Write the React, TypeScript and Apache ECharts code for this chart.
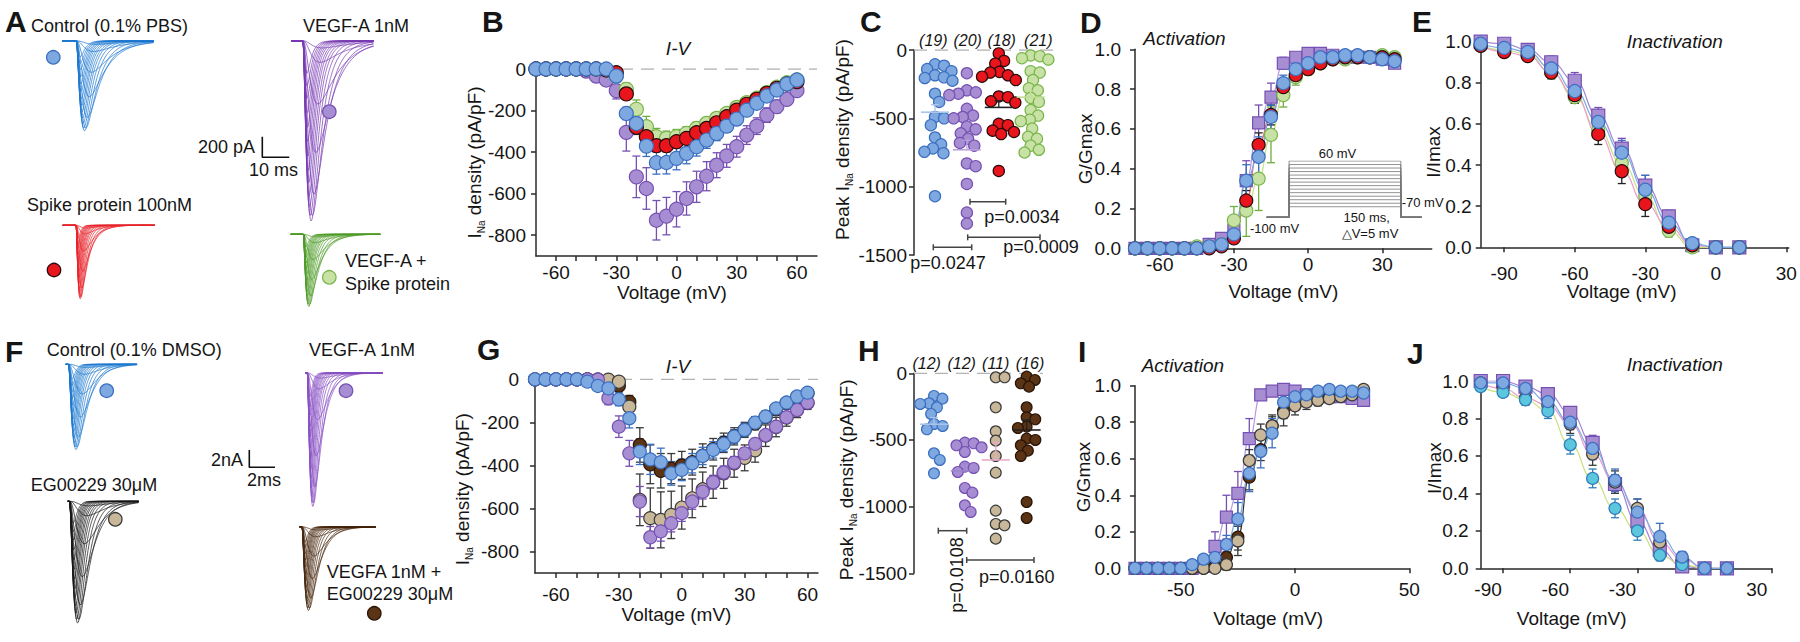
import React, { useEffect, useRef } from 'react';
import * as echarts from 'echarts';

const FONT = '"Liberation Sans", Arial, Helvetica, sans-serif';
const INK = '#151515';
const AXC = '#2a2a2a';

// ---------------- A / F : current-trace families ----------------
const traceStepVolts = [-40, -35, -30, -25, -20, -15, -10, -5, 0, 5, 10, 15, 20, 25, 30, 35, 40, 45, 50];
const traceRelAmp = [0.04, 0.12, 0.35, 0.62, 0.85, 0.97, 1.0, 0.97, 0.92, 0.86, 0.79, 0.72, 0.64, 0.56, 0.48, 0.4, 0.32, 0.25, 0.18];
const traceTauAct = [1.1, 1.0, 0.9, 0.8, 0.7, 0.62, 0.55, 0.5, 0.46, 0.43, 0.4, 0.38, 0.36, 0.34, 0.33, 0.32, 0.31, 0.3, 0.29];
const traceTauInact = [5.0, 4.2, 3.5, 2.9, 2.4, 2.0, 1.7, 1.5, 1.35, 1.25, 1.15, 1.08, 1.0, 0.95, 0.9, 0.86, 0.82, 0.79, 0.76];
// groups A: Control (PBS), VEGF-A, Spike, VEGF-A + Spike  (pA, ms)
const tracePeaksA = [875, 1750, 720, 705];
const traceUnitA = [2.7, 2.7, 1.35, 1.8];
const traceInactA = [0.8, 0.8, 0.85, 0.8];
const traceOnsetA = [5.2, 4.3, 4.9, 4.6];
const traceSweepA = [34, 30.7, 34.2, 33.3];
// groups F: Control (DMSO), VEGF-A, EG00229, VEGFA + EG00229 (nA, ms)
const tracePeaksF = [9.9, 15.5, 14.1, 9.7];
const traceUnitF = [0.66, 0.5, 0.72, 0.58];
const traceInactF = [0.45, 0.45, 0.45, 0.45];
const traceOnsetF = [0.2, 0.16, 0.12, 0.19];
const traceSweepF = [5.57, 6.07, 5.55, 5.97];
const scaleBarA = [10, 200]; // ms, pA
const scaleBarF = [2, 2]; // ms, nA

// ---------------- B / G : I-V ----------------
const ivVolts = [-70, -65, -60, -55, -50, -45, -40, -35, -30, -25, -20, -15, -10, -5, 0, 5, 10, 15, 20, 25, 30, 35, 40, 45, 50, 55, 60];
const ivCtrlB = [0, 0, 0, 0, 0, 0, 0, 0, -34, -214, -262, -371, -451, -450, -430, -406, -374, -342, -310, -275, -241, -198, -165, -130, -101, -72, -53];
const ivVegfB = [0, 0, 0, 0, 0, -10, -34, -53, -104, -305, -519, -575, -728, -708, -675, -623, -567, -516, -463, -418, -374, -318, -275, -222, -181, -146, -104];
const ivSpikeB = [0, 0, 0, 0, 0, 0, 0, -5, -18, -120, -280, -326, -369, -369, -350, -334, -307, -286, -259, -230, -198, -170, -146, -117, -93, -72, -61];
const ivComboB = [0, 0, 0, 0, 0, 0, 0, -5, -34, -98, -194, -278, -326, -334, -326, -310, -286, -262, -238, -214, -185, -162, -141, -114, -88, -66, -53];
const errCtrlB = [0, 0, 0, 0, 0, 0, 0, 0, 10, 30, 45, 50, 55, 55, 55, 50, 45, 40, 35, 30, 28, 25, 22, 20, 18, 15, 12];
const errVegfB = [0, 0, 0, 0, 0, 5, 10, 15, 40, 90, 100, 100, 95, 90, 85, 80, 75, 70, 60, 55, 50, 45, 40, 35, 30, 25, 20];
const errSpikeB = [0, 0, 0, 0, 0, 0, 0, 5, 10, 25, 35, 35, 30, 30, 30, 28, 26, 24, 22, 20, 18, 16, 14, 12, 10, 8, 6];
const errComboB = [0, 0, 0, 0, 0, 0, 0, 5, 15, 30, 45, 50, 40, 35, 35, 32, 30, 28, 26, 24, 22, 20, 18, 16, 14, 12, 10];

const ivCtrlG = [0, 0, 0, 0, 0, -11, -31, -42, -93, -181, -336, -372, -385, -437, -421, -390, -356, -328, -300, -266, -235, -201, -173, -135, -108, -80, -62];
const ivVegfG = [0, 0, 0, 0, 0, 0, -2, -88, -220, -344, -568, -734, -707, -669, -622, -568, -522, -478, -433, -387, -344, -300, -259, -220, -176, -142, -108];
const ivEgG = [0, 0, 0, 0, 0, 0, 0, -2, -11, -127, -560, -645, -653, -630, -596, -553, -511, -478, -437, -390, -365, -330, -262, -222, -178, -143, -110];
const ivComboG = [0, 0, 0, 0, 0, 0, -5, -15, -30, -105, -305, -395, -425, -415, -400, -385, -355, -325, -295, -265, -235, -205, -175, -140, -110, -85, -65];
const errCtrlG = [0, 0, 0, 0, 0, 5, 10, 15, 30, 45, 60, 70, 65, 55, 50, 45, 40, 38, 35, 32, 30, 28, 25, 22, 20, 18, 15];
const errVegfG = [0, 0, 0, 0, 0, 0, 5, 30, 50, 60, 70, 50, 45, 40, 38, 36, 34, 32, 30, 28, 26, 24, 22, 20, 18, 16, 14];
const errEgG = [0, 0, 0, 0, 0, 0, 0, 5, 10, 30, 120, 140, 130, 110, 100, 90, 80, 75, 70, 65, 60, 55, 50, 45, 40, 35, 30];
const errComboG = [0, 0, 0, 0, 0, 0, 5, 10, 15, 30, 80, 90, 80, 70, 65, 60, 55, 50, 45, 40, 35, 30, 28, 25, 22, 20, 18];

// ---------------- C / H : peak density per cell ----------------
const cCtrl = [-105, -115, -140, -155, -185, -200, -205, -225, -320, -380, -490, -500, -550, -640, -690, -720, -745, -755, -1070];
const cVegf = [-170, -295, -310, -320, -330, -430, -480, -490, -500, -560, -580, -610, -650, -680, -700, -830, -850, -980, -1190, -1270];
const cSpike = [-25, -80, -100, -160, -165, -185, -195, -220, -340, -345, -375, -385, -540, -550, -590, -600, -615, -885];
const cCombo = [-40, -45, -60, -70, -155, -165, -220, -280, -295, -350, -380, -440, -480, -510, -520, -575, -635, -650, -700, -730, -750];
const cMeans = [-455, -730, -420, -345];
const cSem = [55, 70, 50, 45];
const cCounts = ['(19)', '(20)', '(18)', '(21)'];

const hCtrl = [-170, -190, -225, -230, -255, -305, -380, -395, -420, -600, -650, -750];
const hVegf = [-520, -525, -540, -555, -590, -700, -710, -740, -860, -895, -990, -1040];
const hEg = [-30, -30, -255, -435, -505, -620, -745, -1030, -1130, -1140, -1240];
const hCombo = [-25, -50, -75, -100, -255, -330, -345, -400, -410, -490, -500, -540, -580, -620, -965, -1085];
const hMeans = [-382, -732, -650, -425];
const hSem = [50, 55, 130, 75];
const hCounts = ['(12)', '(12)', '(11)', '(16)'];

// ---------------- D / I : activation ----------------
const actVoltsD = [-70, -65, -60, -55, -50, -45, -40, -35, -30, -25, -20, -15, -10, -5, 0, 5, 10, 15, 20, 25, 30, 35];
const actCtrlD = [0, 0, 0, 0, 0, 0, 0.01, 0.02, 0.07, 0.34, 0.46, 0.66, 0.83, 0.9, 0.93, 0.96, 0.96, 0.97, 0.97, 0.96, 0.95, 0.94];
const actVegfD = [0, 0, 0, 0, 0, 0, 0.02, 0.05, 0.09, 0.34, 0.63, 0.76, 0.93, 0.96, 0.98, 0.98, 0.97, 0.96, 0.96, 0.96, 0.95, 0.93];
const actSpikeD = [0, 0, 0, 0, 0, 0, 0, 0.01, 0.05, 0.24, 0.52, 0.67, 0.81, 0.87, 0.9, 0.93, 0.95, 0.96, 0.96, 0.96, 0.96, 0.95];
const actComboD = [0, 0, 0, 0, 0, 0.01, 0.01, 0.02, 0.14, 0.19, 0.35, 0.57, 0.77, 0.86, 0.9, 0.93, 0.95, 0.95, 0.96, 0.96, 0.97, 0.96];
const errCtrlD = [0, 0, 0, 0, 0, 0, 0, 0, 0.02, 0.08, 0.1, 0.06, 0.04, 0.03, 0.02, 0.01, 0.01, 0.01, 0.01, 0.01, 0.01, 0.01];
const errVegfD = [0, 0, 0, 0, 0, 0, 0, 0.01, 0.03, 0.1, 0.09, 0.07, 0.03, 0.02, 0.01, 0.01, 0.01, 0.01, 0.01, 0.01, 0.01, 0.01];
const errSpikeD = [0, 0, 0, 0, 0, 0, 0, 0, 0.02, 0.05, 0.06, 0.05, 0.04, 0.03, 0.02, 0.01, 0.01, 0.01, 0.01, 0.01, 0.01, 0.01];
const errComboD = [0, 0, 0, 0, 0, 0, 0, 0.01, 0.07, 0.13, 0.16, 0.14, 0.06, 0.04, 0.03, 0.02, 0.01, 0.01, 0.01, 0.01, 0.01, 0.01];

const actVoltsI = [-70, -65, -60, -55, -50, -45, -40, -35, -30, -25, -20, -15, -10, -5, 0, 5, 10, 15, 20, 25, 30];
const actCtrlI = [0, 0, 0, 0, 0, 0.02, 0.05, 0.06, 0.13, 0.27, 0.52, 0.64, 0.74, 0.91, 0.94, 0.95, 0.97, 0.98, 0.97, 0.97, 0.96];
const actVegfI = [0, 0, 0, 0, 0, 0, 0.01, 0.12, 0.28, 0.41, 0.71, 0.95, 0.97, 0.98, 0.97, 0.95, 0.95, 0.94, 0.94, 0.93, 0.92];
const actEgI = [0, 0, 0, 0, 0, 0, 0, 0, 0.02, 0.15, 0.59, 0.73, 0.78, 0.85, 0.89, 0.91, 0.92, 0.93, 0.94, 0.95, 0.98];
const actComboI = [0, 0, 0, 0, 0, 0, 0, 0.01, 0.06, 0.17, 0.5, 0.65, 0.78, 0.86, 0.9, 0.92, 0.93, 0.94, 0.95, 0.96, 0.97];
const errCtrlI = [0, 0, 0, 0, 0, 0.01, 0.01, 0.02, 0.05, 0.09, 0.1, 0.09, 0.08, 0.05, 0.03, 0.02, 0.01, 0.01, 0.01, 0.01, 0.01];
const errVegfI = [0, 0, 0, 0, 0, 0, 0.01, 0.08, 0.12, 0.12, 0.11, 0.02, 0.02, 0.01, 0.01, 0.01, 0.01, 0.01, 0.01, 0.01, 0.01];
const errEgI = [0, 0, 0, 0, 0, 0, 0, 0.01, 0.03, 0.08, 0.06, 0.06, 0.06, 0.07, 0.05, 0.04, 0.03, 0.02, 0.02, 0.02, 0.02];
const errComboI = [0, 0, 0, 0, 0, 0, 0, 0.01, 0.03, 0.07, 0.07, 0.06, 0.05, 0.04, 0.03, 0.02, 0.02, 0.02, 0.02, 0.02, 0.02];

// ---------------- E / J : steady-state inactivation ----------------
const inaVolts = [-100, -90, -80, -70, -60, -50, -40, -30, -20, -10, 0, 10];
const inaCtrlE = [0.99, 0.97, 0.95, 0.87, 0.76, 0.61, 0.46, 0.28, 0.12, 0.02, 0, 0];
const inaVegfE = [1.0, 0.99, 0.96, 0.9, 0.81, 0.64, 0.48, 0.3, 0.15, 0.01, 0, 0];
const inaSpikeE = [0.98, 0.95, 0.93, 0.85, 0.74, 0.55, 0.37, 0.21, 0.1, 0.01, 0, 0];
const inaComboE = [0.98, 0.96, 0.94, 0.85, 0.73, 0.57, 0.41, 0.25, 0.08, 0, 0, 0];
const errCtrlE = [0.01, 0.01, 0.02, 0.03, 0.04, 0.05, 0.06, 0.07, 0.04, 0.01, 0, 0];
const errVegfE = [0.01, 0.01, 0.02, 0.03, 0.04, 0.04, 0.05, 0.05, 0.03, 0.01, 0, 0];
const errSpikeE = [0.01, 0.01, 0.02, 0.03, 0.04, 0.05, 0.06, 0.06, 0.04, 0.01, 0, 0];
const errComboE = [0.01, 0.01, 0.02, 0.03, 0.03, 0.04, 0.05, 0.05, 0.03, 0.01, 0, 0];

const inaCtrlJ = [0.99, 0.99, 0.96, 0.89, 0.78, 0.64, 0.47, 0.3, 0.17, 0.06, 0, 0];
const inaVegfJ = [1.0, 1.0, 0.97, 0.93, 0.83, 0.67, 0.45, 0.25, 0.1, 0.01, 0, 0];
const inaEgJ = [0.99, 0.96, 0.91, 0.87, 0.77, 0.61, 0.46, 0.32, 0.14, 0.05, 0, 0];
const inaComboJ = [0.97, 0.94, 0.9, 0.84, 0.66, 0.48, 0.32, 0.2, 0.07, 0.02, 0, 0];
const errCtrlJ = [0.02, 0.02, 0.02, 0.03, 0.04, 0.06, 0.06, 0.07, 0.07, 0.03, 0, 0];
const errVegfJ = [0.01, 0.01, 0.02, 0.02, 0.03, 0.04, 0.05, 0.06, 0.05, 0.02, 0, 0];
const errEgJ = [0.02, 0.02, 0.03, 0.04, 0.05, 0.06, 0.06, 0.05, 0.04, 0.02, 0, 0];
const errComboJ = [0.02, 0.02, 0.03, 0.04, 0.05, 0.05, 0.05, 0.05, 0.03, 0.01, 0, 0];

// ---------------- activation protocol inset ----------------
const protocolLevels = [-70, -60, -50, -40, -30, -20, -10, 0, 10, 20, 30, 40, 50, 60];
const protocolHold = -100;
const protocolTimes = [-30, 0, 150, 178];

// ---------------- colours ----------------
const COL = {
  blue: { fill: '#7ea8e0', stroke: '#3b6fc0', err: '#3b6fc0', fit: '#7aaae6' },
  purple: { fill: '#a78ed3', stroke: '#7650b2', err: '#7650b2', fit: '#b79be0' },
  red: { fill: '#e8151c', stroke: '#2a0a0a', err: '#222222', fit: '#ec9cc8' },
  green: { fill: '#c7e2a4', stroke: '#7bb64d', err: '#6fae3e', fit: '#c9e08a' },
  tan: { fill: '#c8b899', stroke: '#3a3a3a', err: '#3a3a3a', fit: '#ec9cc8' },
  brown: { fill: '#5a3414', stroke: '#2a1406', err: '#3a3a3a', fit: '#333333' },
  cyan: { fill: '#5cc6df', stroke: '#2f7fb8', err: '#2f7fb8', fit: '#c9e07a' },
};

function beeswarm(ys: number[], d: number): number[] {
  const order = ys.map((_, i) => i).sort((a, b) => ys[a] - ys[b]);
  const xs = new Array(ys.length).fill(0);
  const placed: number[] = [];
  for (const i of order) {
    const cand = [0];
    const ints: number[][] = [];
    for (const j of placed) {
      const dy = Math.abs(ys[i] - ys[j]);
      if (dy < d) {
        const w = Math.sqrt(d * d - dy * dy);
        ints.push([xs[j] - w, xs[j] + w]);
        cand.push(xs[j] + w, xs[j] - w);
      }
    }
    cand.sort((a, b) => Math.abs(a) - Math.abs(b));
    let best = 0;
    for (const c of cand) {
      if (ints.every(([a, b]) => c <= a + 1e-6 || c >= b - 1e-6)) { best = c; break; }
    }
    xs[i] = best;
    placed.push(i);
  }
  return xs;
}

function buildOption() {
  const grid: any[] = [];
  const xAxis: any[] = [];
  const yAxis: any[] = [];
  const series: any[] = [];
  const graphic: any[] = [];

  const addGrid = (g: any, xa: any, ya: any) => {
    const idx = grid.length;
    grid.push({ ...g, containLabel: false, outerBoundsMode: 'none' });
    xAxis.push({ gridIndex: idx, ...xa });
    yAxis.push({ gridIndex: idx, ...ya });
    return idx;
  };
  const hidden = (min: number, max: number) => ({ type: 'value', min, max, show: false, splitLine: { show: false } });
  const valAxis = (o: any) => ({
    type: 'value', min: o.min, max: o.max, splitLine: { show: false },
    axisLine: { show: true, onZero: false, lineStyle: { color: AXC, width: 1.5 } },
    axisTick: { show: true, length: 5, inside: false, customValues: o.ticks, lineStyle: { color: AXC, width: 1.5 } },
    axisLabel: {
      customValues: o.labels, fontSize: 19, fontFamily: FONT, color: INK, margin: o.margin ?? 8,
      formatter: o.fmt ?? ((v: number) => String(Math.round(v))), padding: o.lpad ?? 0,
    },
    name: o.name, nameLocation: 'middle', nameGap: o.nameGap, nameRotate: o.nameRotate ?? 0,
    nameMoveOverlap: false,
    nameTextStyle: { fontSize: 19, fontFamily: FONT, color: INK, padding: o.npad ?? 0, rich: o.rich },
  });
  const fmt1 = (v: number) => v.toFixed(1);
  const subRich = {
    t: { fontSize: 19, fontFamily: FONT, color: INK, lineHeight: 24, verticalAlign: 'middle' },
    s: { fontSize: 10, fontFamily: FONT, color: INK, lineHeight: 24, verticalAlign: 'bottom' },
  };

  // ----- trace panels -----
  const traceGroup = (gi: number, peak: number, unit: number, inact: number, onset: number, sweep: number, color: string) => {
    const N = 320;
    traceStepVolts.forEach((_, k) => {
      const tm = traceTauAct[k] * unit;
      const th = traceTauInact[k] * unit * inact;
      const raw: number[][] = [];
      let fmax = 0;
      for (let j = 0; j <= N; j++) {
        const t = (j * sweep) / N;
        const tt = t - onset;
        const f = tt > 0 ? Math.pow(1 - Math.exp(-tt / tm), 3) * Math.exp(-tt / th) : 0;
        raw.push([t, f]);
        if (f > fmax) fmax = f;
      }
      const a = peak * traceRelAmp[k];
      series.push({
        type: 'line', xAxisIndex: gi, yAxisIndex: gi, showSymbol: false, symbol: 'none', silent: true,
        data: raw.map(([t, f]) => [t, (-a * f) / fmax]),
        lineStyle: { color, width: 0.75, opacity: 1 }, z: 2,
      });
    });
  };
  const A_PX_MS = 2.7, A_PX_PA = 0.103, A_YMAX = 2000;
  const F_PX_MS = 12.85, F_PX_NA = 8.65, F_YMAX = 16;
  const posA = [[62, 40.7], [291, 40.7], [62.7, 225], [290.7, 234]];
  const posF = [[65.7, 364], [305, 372.7], [67.7, 501], [299.3, 526.7]];
  const colA = ['#2079d2', '#7a3cb4', '#e8262c', '#4f9c28'];
  const colF = ['#1f7bd0', '#8a52c4', '#1a1a1a', '#4a2a10'];
  for (let g = 0; g < 4; g++) {
    const gi = addGrid(
      { left: posA[g][0], top: posA[g][1], width: traceSweepA[g] * A_PX_MS, height: A_YMAX * A_PX_PA },
      hidden(0, traceSweepA[g]), hidden(-A_YMAX, 0));
    traceGroup(gi, tracePeaksA[g], traceUnitA[g], traceInactA[g], traceOnsetA[g], traceSweepA[g], colA[g]);
    const gf = addGrid(
      { left: posF[g][0], top: posF[g][1], width: traceSweepF[g] * F_PX_MS, height: F_YMAX * F_PX_NA },
      hidden(0, traceSweepF[g]), hidden(-F_YMAX, 0));
    traceGroup(gf, tracePeaksF[g], traceUnitF[g], traceInactF[g], traceOnsetF[g], traceSweepF[g], colF[g]);
  }
  // scale bars
  const sbA = addGrid({ left: 262.3, top: 136.7, width: scaleBarA[0] * A_PX_MS, height: scaleBarA[1] * A_PX_PA },
    hidden(0, scaleBarA[0]), hidden(0, scaleBarA[1]));
  series.push({ type: 'line', xAxisIndex: sbA, yAxisIndex: sbA, symbol: 'none', silent: true,
    data: [[0, scaleBarA[1]], [0, 0], [scaleBarA[0], 0]], lineStyle: { color: '#111', width: 1.6 } });
  const sbF = addGrid({ left: 249.3, top: 450, width: scaleBarF[0] * F_PX_MS, height: scaleBarF[1] * F_PX_NA },
    hidden(0, scaleBarF[0]), hidden(0, scaleBarF[1]));
  series.push({ type: 'line', xAxisIndex: sbF, yAxisIndex: sbF, symbol: 'none', silent: true,
    data: [[0, scaleBarF[1]], [0, 0], [scaleBarF[0], 0]], lineStyle: { color: '#111', width: 1.6 } });

  // ----- helpers for data panels -----
  const scatter = (gi: number, xs: number[], ys: number[], c: any, size: number, symbol = 'circle', z = 4) => ({
    type: 'scatter', xAxisIndex: gi, yAxisIndex: gi, silent: true, symbol, symbolSize: size, z,
    data: xs.map((x, i) => [x, ys[i]]),
    itemStyle: { color: c.fill, borderColor: c.stroke, borderWidth: 1.2, opacity: 1 },
  });
  const errBars = (gi: number, xs: number[], ys: number[], es: number[], color: string, cap = 4) => ({
    type: 'custom', xAxisIndex: gi, yAxisIndex: gi, silent: true, z: 3,
    data: xs.map((x, i) => [x, ys[i], es[i]]),
    encode: { x: 0, y: 1 },
    renderItem: (_p: any, api: any) => {
      const x = api.value(0), y = api.value(1), e = api.value(2);
      if (!e) return { type: 'group', children: [] };
      const a = api.coord([x, y + e]);
      const b = api.coord([x, y - e]);
      const st = { stroke: color, lineWidth: 1.3 };
      return {
        type: 'group', children: [
          { type: 'line', shape: { x1: a[0], y1: a[1], x2: b[0], y2: b[1] }, style: st },
          { type: 'line', shape: { x1: a[0] - cap, y1: a[1], x2: a[0] + cap, y2: a[1] }, style: st },
          { type: 'line', shape: { x1: b[0] - cap, y1: b[1], x2: b[0] + cap, y2: b[1] }, style: st },
        ],
      };
    },
  });
  const fitLine = (gi: number, xs: number[], ys: number[], color: string) => ({
    type: 'line', xAxisIndex: gi, yAxisIndex: gi, silent: true, symbol: 'none', showSymbol: false,
    smooth: 0.5, smoothMonotone: 'x', z: 2,
    data: xs.map((x, i) => [x, ys[i]]), lineStyle: { color, width: 1.2 },
  });
  const zeroLine = (gi: number, x0: number, x1: number) => ({
    type: 'line', xAxisIndex: gi, yAxisIndex: gi, silent: true, symbol: 'none', z: 1,
    data: [[x0, 0], [x1, 0]], lineStyle: { color: '#b3b3b3', width: 1.5, type: [13, 8] },
  });
  const swarm = (gi: number, cat: number, values: number[], c: any, r: number) => ({
    type: 'custom', xAxisIndex: gi, yAxisIndex: gi, silent: true, z: 4,
    data: values.map((v) => [cat, v]), encode: { x: 0, y: 1 },
    renderItem: (params: any, api: any) => {
      const pts = values.map((v) => api.coord([cat, v]));
      const offs = beeswarm(pts.map((p: number[]) => p[1]), 2 * r * 0.82);
      const i = params.dataIndex;
      return { type: 'circle', shape: { cx: pts[i][0] + offs[i], cy: pts[i][1], r }, style: { fill: c.fill, stroke: c.stroke, lineWidth: 1.2 } };
    },
  });
  const meanBars = (gi: number, means: number[], sems: number[], colors: string[]) => ({
    type: 'custom', xAxisIndex: gi, yAxisIndex: gi, silent: true, z: 5,
    data: means.map((m, i) => [i + 1, m, sems[i]]), encode: { x: 0, y: 1 },
    renderItem: (params: any, api: any) => {
      const x = api.value(0), m = api.value(1), s = api.value(2);
      const p = api.coord([x, m]);
      const q = api.coord([x, m + s]);
      const col = colors[params.dataIndex];
      return {
        type: 'group', children: [
          { type: 'line', shape: { x1: p[0] - 14, y1: p[1], x2: p[0] + 14, y2: p[1] }, style: { stroke: col, lineWidth: 1.6 } },
          { type: 'line', shape: { x1: p[0], y1: p[1], x2: q[0], y2: q[1] }, style: { stroke: col, lineWidth: 1.3 } },
          { type: 'line', shape: { x1: q[0] - 4, y1: q[1], x2: q[0] + 4, y2: q[1] }, style: { stroke: col, lineWidth: 1.3 } },
        ],
      };
    },
  });

  // ----- B -----
  const ivTicks = [-60, -50, -40, -30, -20, -10, 0, 10, 20, 30, 40, 50, 60];
  const ivLabels = [-60, -30, 0, 30, 60];
  const ivY = [-800, -600, -400, -200, 0];
  const gB = addGrid({ left: 536, top: 69, width: 281, height: 187 },
    valAxis({ min: -70, max: 70, ticks: ivTicks, labels: ivLabels, margin: 7, name: 'Voltage (mV)', nameGap: 27, npad: [0, 9, 0, 0] }),
    valAxis({ min: -900, max: 0, ticks: ivY, labels: ivY, margin: 10, name: '{t|I}{s|Na}{t| density (pA/pF)}', nameGap: 50, nameRotate: 90, rich: subRich }));
  series.push(zeroLine(gB, -70, 70));
  series.push(errBars(gB, ivVolts, ivVegfB, errVegfB, COL.purple.err));
  series.push(errBars(gB, ivVolts, ivComboB, errComboB, COL.green.err));
  series.push(errBars(gB, ivVolts, ivSpikeB, errSpikeB, COL.red.err));
  series.push(errBars(gB, ivVolts, ivCtrlB, errCtrlB, COL.blue.err));
  series.push(scatter(gB, ivVolts, ivVegfB, COL.purple, 14));
  series.push(scatter(gB, ivVolts, ivComboB, COL.green, 14));
  series.push(scatter(gB, ivVolts, ivSpikeB, COL.red, 14));
  series.push(scatter(gB, ivVolts, ivCtrlB, COL.blue, 14));

  // ----- G -----
  const gG = addGrid({ left: 535, top: 379.3, width: 283, height: 193.7 },
    valAxis({ min: -70, max: 65, ticks: ivTicks, labels: ivLabels, margin: 12, name: 'Voltage (mV)', nameGap: 32 }),
    valAxis({ min: -900, max: 0, ticks: ivY, labels: ivY, margin: 16, name: '{t|I}{s|Na}{t| density (pA/pF)}', nameGap: 61, nameRotate: 90, rich: subRich, npad: [0, 26, 0, 0] }));
  series.push(zeroLine(gG, -70, 65));
  series.push(errBars(gG, ivVolts, ivComboG, errComboG, COL.brown.err));
  series.push(errBars(gG, ivVolts, ivEgG, errEgG, COL.tan.err));
  series.push(errBars(gG, ivVolts, ivVegfG, errVegfG, COL.purple.err));
  series.push(errBars(gG, ivVolts, ivCtrlG, errCtrlG, COL.blue.err));
  series.push(scatter(gG, ivVolts, ivComboG, COL.brown, 13));
  series.push(scatter(gG, ivVolts, ivEgG, COL.tan, 13));
  series.push(scatter(gG, ivVolts, ivVegfG, COL.purple, 13));
  series.push(scatter(gG, ivVolts, ivCtrlG, COL.blue, 13));

  // ----- C -----
  const pkY = [-1500, -1000, -500, 0];
  const gC = addGrid({ left: 914, top: 50, width: 139, height: 205 },
    hidden(0.342, 4.7),
    valAxis({ min: -1500, max: 0, ticks: pkY, labels: pkY, margin: 7, name: '{t|Peak I}{s|Na}{t| density (pA/pF)}', nameGap: 60, nameRotate: 90, rich: subRich, npad: [0, 0, 0, 26] }));
  series.push(zeroLine(gC, 0.342, 4.7));
  series.push(swarm(gC, 1, cCtrl, COL.blue, 5.6));
  series.push(swarm(gC, 2, cVegf, COL.purple, 5.6));
  series.push(swarm(gC, 3, cSpike, COL.red, 5.6));
  series.push(swarm(gC, 4, cCombo, COL.green, 5.6));
  series.push(meanBars(gC, cMeans, cSem, ['#a9c4ea', '#b9a3dd', '#222222', '#c2dd98']));

  // ----- H -----
  const gH = addGrid({ left: 914, top: 373.3, width: 129, height: 200 },
    hidden(0.353, 4.53),
    valAxis({ min: -1500, max: 0, ticks: pkY, labels: pkY, margin: 7, name: '{t|Peak I}{s|Na}{t| density (pA/pF)}', nameGap: 56, nameRotate: 90, rich: subRich, npad: [0, 13, 0, 0] }));
  series.push(zeroLine(gH, 0.353, 4.53));
  series.push(swarm(gH, 1, hCtrl, COL.blue, 5.4));
  series.push(swarm(gH, 2, hVegf, COL.purple, 5.4));
  series.push(swarm(gH, 3, hEg, COL.tan, 5.4));
  series.push(swarm(gH, 4, hCombo, COL.brown, 5.4));
  series.push(meanBars(gH, hMeans, hSem, ['#a9c4ea', '#9d85cc', '#eaa9c9', '#222222']));

  // ----- D -----
  const unitY = [0, 0.2, 0.4, 0.6, 0.8, 1.0];
  const gD = addGrid({ left: 1135, top: 49.3, width: 296.7, height: 199 },
    valAxis({ min: -70, max: 50, ticks: [-60, -30, 0, 30], labels: [-60, -30, 0, 30], margin: 7, name: 'Voltage (mV)', nameGap: 34 }),
    valAxis({ min: 0, max: 1, ticks: unitY, labels: unitY, fmt: fmt1, margin: 14, name: 'G/Gmax', nameGap: 40, nameRotate: 90 }));
  series.push(fitLine(gD, actVoltsD, actVegfD, COL.purple.fit));
  series.push(fitLine(gD, actVoltsD, actComboD, COL.green.fit));
  series.push(fitLine(gD, actVoltsD, actSpikeD, '#e07070'));
  series.push(fitLine(gD, actVoltsD, actCtrlD, COL.blue.fit));
  series.push(errBars(gD, actVoltsD, actVegfD, errVegfD, COL.purple.err));
  series.push(errBars(gD, actVoltsD, actComboD, errComboD, COL.green.err));
  series.push(errBars(gD, actVoltsD, actSpikeD, errSpikeD, COL.red.err));
  series.push(errBars(gD, actVoltsD, actCtrlD, errCtrlD, COL.blue.err));
  series.push(scatter(gD, actVoltsD, actVegfD, COL.purple, 12, 'rect'));
  series.push(scatter(gD, actVoltsD, actComboD, COL.green, 13));
  series.push(scatter(gD, actVoltsD, actSpikeD, COL.red, 13));
  series.push(scatter(gD, actVoltsD, actCtrlD, COL.blue, 13));

  // protocol inset
  const gP = addGrid({ left: 1266.7, top: 161, width: 155, height: 56.3 },
    hidden(protocolTimes[0], protocolTimes[3]), hidden(protocolHold, 60));
  protocolLevels.forEach((L) => {
    series.push({
      type: 'line', xAxisIndex: gP, yAxisIndex: gP, symbol: 'none', silent: true, z: 1,
      data: [[protocolTimes[0], protocolHold], [protocolTimes[1], protocolHold], [protocolTimes[1], L], [protocolTimes[2], L], [protocolTimes[2], protocolHold], [protocolTimes[3], protocolHold]],
      lineStyle: { color: '#777', width: 0.8 },
    });
  });

  // ----- E -----
  const inaX = [-90, -60, -30, 0, 30];
  const gE = addGrid({ left: 1480.7, top: 41.7, width: 308, height: 205.6 },
    valAxis({ min: -100, max: 31, ticks: inaX, labels: inaX, margin: 17, name: 'Voltage (mV)', nameGap: 35, npad: [0, 26, 0, 0] }),
    valAxis({ min: 0, max: 1, ticks: unitY, labels: unitY, fmt: fmt1, margin: 9, name: 'I/Imax', nameGap: 38, nameRotate: 90, npad: [0, 15, 0, 0] }));
  series.push(fitLine(gE, inaVolts, inaVegfE, '#a385d3'));
  series.push(fitLine(gE, inaVolts, inaComboE, COL.green.fit));
  series.push(fitLine(gE, inaVolts, inaSpikeE, COL.red.fit));
  series.push(fitLine(gE, inaVolts, inaCtrlE, COL.blue.fit));
  series.push(errBars(gE, inaVolts, inaVegfE, errVegfE, COL.purple.err));
  series.push(errBars(gE, inaVolts, inaComboE, errComboE, COL.green.err));
  series.push(errBars(gE, inaVolts, inaSpikeE, errSpikeE, COL.red.err));
  series.push(errBars(gE, inaVolts, inaCtrlE, errCtrlE, COL.blue.err));
  series.push(scatter(gE, inaVolts, inaVegfE, COL.purple, 13, 'rect'));
  series.push(scatter(gE, inaVolts, inaComboE, COL.green, 13));
  series.push(scatter(gE, inaVolts, inaSpikeE, COL.red, 13));
  series.push(scatter(gE, inaVolts, inaCtrlE, COL.blue, 13));

  // ----- I -----
  const gI = addGrid({ left: 1135, top: 385.7, width: 274.3, height: 182.6 },
    valAxis({ min: -70, max: 50, ticks: [-50, 0, 50], labels: [-50, 0, 50], margin: 12, name: 'Voltage (mV)', nameGap: 41, npad: [0, 8, 0, 0] }),
    valAxis({ min: 0, max: 1, ticks: unitY, labels: unitY, fmt: fmt1, margin: 14, name: 'G/Gmax', nameGap: 42, nameRotate: 90 }));
  series.push(fitLine(gI, actVoltsI, actVegfI, COL.purple.fit));
  series.push(fitLine(gI, actVoltsI, actComboI, '#333333'));
  series.push(fitLine(gI, actVoltsI, actCtrlI, COL.blue.fit));
  series.push(errBars(gI, actVoltsI, actVegfI, errVegfI, COL.purple.err));
  series.push(errBars(gI, actVoltsI, actComboI, errComboI, COL.brown.err));
  series.push(errBars(gI, actVoltsI, actEgI, errEgI, COL.tan.err));
  series.push(errBars(gI, actVoltsI, actCtrlI, errCtrlI, COL.blue.err));
  series.push(scatter(gI, actVoltsI, actVegfI, COL.purple, 12, 'rect'));
  series.push(scatter(gI, actVoltsI, actComboI, COL.brown, 12));
  series.push(scatter(gI, actVoltsI, actEgI, COL.tan, 12));
  series.push(scatter(gI, actVoltsI, actCtrlI, COL.blue, 12));

  // ----- J -----
  const gJ = addGrid({ left: 1480.7, top: 381, width: 291, height: 187.3 },
    valAxis({ min: -100, max: 30, ticks: inaX, labels: inaX, margin: 12, lpad: [0, 30, 0, 0], name: 'Voltage (mV)', nameGap: 41, npad: [0, 109, 0, 0] }),
    valAxis({ min: 0, max: 1, ticks: unitY, labels: unitY, fmt: fmt1, margin: 12, name: 'I/Imax', nameGap: 37, nameRotate: 90, npad: [0, 0, 0, 13] }));
  series.push(fitLine(gJ, inaVolts, inaVegfJ, '#a385d3'));
  series.push(fitLine(gJ, inaVolts, inaEgJ, COL.tan.fit));
  series.push(fitLine(gJ, inaVolts, inaComboJ, COL.cyan.fit));
  series.push(fitLine(gJ, inaVolts, inaCtrlJ, COL.blue.fit));
  series.push(errBars(gJ, inaVolts, inaVegfJ, errVegfJ, COL.purple.err));
  series.push(errBars(gJ, inaVolts, inaEgJ, errEgJ, COL.tan.err));
  series.push(errBars(gJ, inaVolts, inaComboJ, errComboJ, COL.cyan.err));
  series.push(errBars(gJ, inaVolts, inaCtrlJ, errCtrlJ, COL.blue.err));
  series.push(scatter(gJ, inaVolts, inaVegfJ, COL.purple, 13, 'rect'));
  series.push(scatter(gJ, inaVolts, inaEgJ, COL.tan, 12));
  series.push(scatter(gJ, inaVolts, inaComboJ, COL.cyan, 12));
  series.push(scatter(gJ, inaVolts, inaCtrlJ, COL.blue, 12));

  // ----- graphic annotations -----
  const txt = (text: string, x: number, y: number, o: any = {}) => {
    const font = `${o.italic ? 'italic ' : ''}${o.bold ? 'bold ' : ''}${o.size ?? 18}px ${FONT}`;
    const align = o.align ?? 'left';
    graphic.push({
      type: 'text', x, y, rotation: o.rot ?? 0, z: 100, silent: true,
      style: { text, x: 0, y: 0, font, fill: o.color ?? INK, textAlign: align, textVerticalAlign: 'middle', align, verticalAlign: 'middle' },
    });
  };
  const dot = (cx: number, cy: number, c: any) => graphic.push({
    type: 'circle', z: 100, silent: true, shape: { cx, cy, r: 6.7 }, style: { fill: c.fill, stroke: c.stroke, lineWidth: 1.3 },
  });
  const seg = (x1: number, y1: number, x2: number, y2: number) => graphic.push({
    type: 'line', z: 100, silent: true, shape: { x1, y1, x2, y2 }, style: { stroke: '#444', lineWidth: 1.5 },
  });
  const sigBar = (x1: number, x2: number, y: number) => { seg(x1, y, x2, y); seg(x1, y - 3, x1, y + 3); seg(x2, y - 3, x2, y + 3); };

  // panel letters
  const L = { bold: true, size: 30 };
  txt('A', 5, 21, L); txt('B', 482, 21, L); txt('C', 860, 21, L); txt('D', 1080, 22.5, L); txt('E', 1412, 21.5, L);
  txt('F', 5, 351, L); txt('G', 477, 349, L); txt('H', 858, 350, L); txt('I', 1078, 351, L); txt('J', 1407, 353, L);

  // A
  txt('Control (0.1% PBS)', 31, 25.5);
  txt('VEGF-A 1nM', 303, 25.5);
  txt('Spike protein 100nM', 27, 205);
  txt('VEGF-A +', 345, 260.5);
  txt('Spike protein', 345, 284);
  txt('200 pA', 255, 147, { align: 'right' });
  txt('10 ms', 249, 169.5);
  dot(53.3, 57.3, COL.blue); dot(329.3, 111.7, COL.purple); dot(54, 270, COL.red); dot(329.3, 277.3, COL.green);
  // F
  txt('Control (0.1% DMSO)', 46.7, 350);
  txt('VEGF-A 1nM', 309, 350);
  txt('2nA', 243, 459.5, { align: 'right' });
  txt('2ms', 247, 479.5);
  txt('EG00229 30μM', 30.7, 485);
  txt('VEGFA 1nM +', 326.7, 572);
  txt('EG00229 30μM', 326.7, 593.5);
  dot(106.7, 390.7, COL.blue); dot(346, 390.7, COL.purple); dot(115.3, 519.3, COL.tan); dot(374.3, 613.3, COL.brown);

  // B / G titles
  txt('I-V', 678, 48, { italic: true, size: 19, align: 'center' });
  txt('I-V', 678, 366, { italic: true, size: 19, align: 'center' });

  // C
  const cx = [933.3, 967.7, 1001.7, 1038.3];
  cCounts.forEach((s, i) => txt(s, cx[i], 40, { italic: true, size: 16, align: 'center' }));
  sigBar(933.3, 971.7, 247.3); txt('p=0.0247', 948, 263, { align: 'center' });
  sigBar(970, 1005.7, 201.7); txt('p=0.0034', 1022, 217, { align: 'center' });
  sigBar(967.7, 1040, 237.3); txt('p=0.0009', 1041, 247, { align: 'center' });
  // H
  const hx = [926.7, 961.7, 995.7, 1030];
  hCounts.forEach((s, i) => txt(s, hx[i], 363.3, { italic: true, size: 16, align: 'center' }));
  sigBar(938.3, 966.7, 530.7); txt('p=0.0108', 956.7, 575, { align: 'center', rot: Math.PI / 2 });
  sigBar(966.7, 1034, 560); txt('p=0.0160', 1016.7, 577, { align: 'center' });

  // D / E / I / J titles
  txt('Activation', 1143.3, 38.3, { italic: true, size: 19 });
  txt('Activation', 1141.7, 365, { italic: true, size: 19 });
  txt('Inactivation', 1626.7, 41.7, { italic: true, size: 19 });
  txt('Inactivation', 1626.7, 364, { italic: true, size: 19 });
  // protocol labels
  const P = { size: 13 };
  txt('60 mV', 1337.5, 153, { ...P, align: 'center' });
  txt('-70 mV', 1401.7, 202, P);
  txt('-100 mV', 1250, 228.5, P);
  txt('150 ms,', 1366.7, 217.5, { ...P, align: 'center' });
  txt('\u25B3V=5 mV', 1370, 233, { ...P, align: 'center' });

  return {
    animation: false,
    backgroundColor: '#ffffff',
    textStyle: { fontFamily: FONT },
    grid, xAxis, yAxis, series, graphic,
  };
}

export default function App() {
  const ref = useRef<HTMLDivElement>(null);
  useEffect(() => {
    document.body.style.margin = '0';
    if (!ref.current) return;
    const chart = echarts.init(ref.current, undefined, { renderer: 'svg' });
    chart.setOption(buildOption() as any);
    return () => chart.dispose();
  }, []);
  return <div ref={ref} style={{ width: 1800, height: 642 }} />;
}
